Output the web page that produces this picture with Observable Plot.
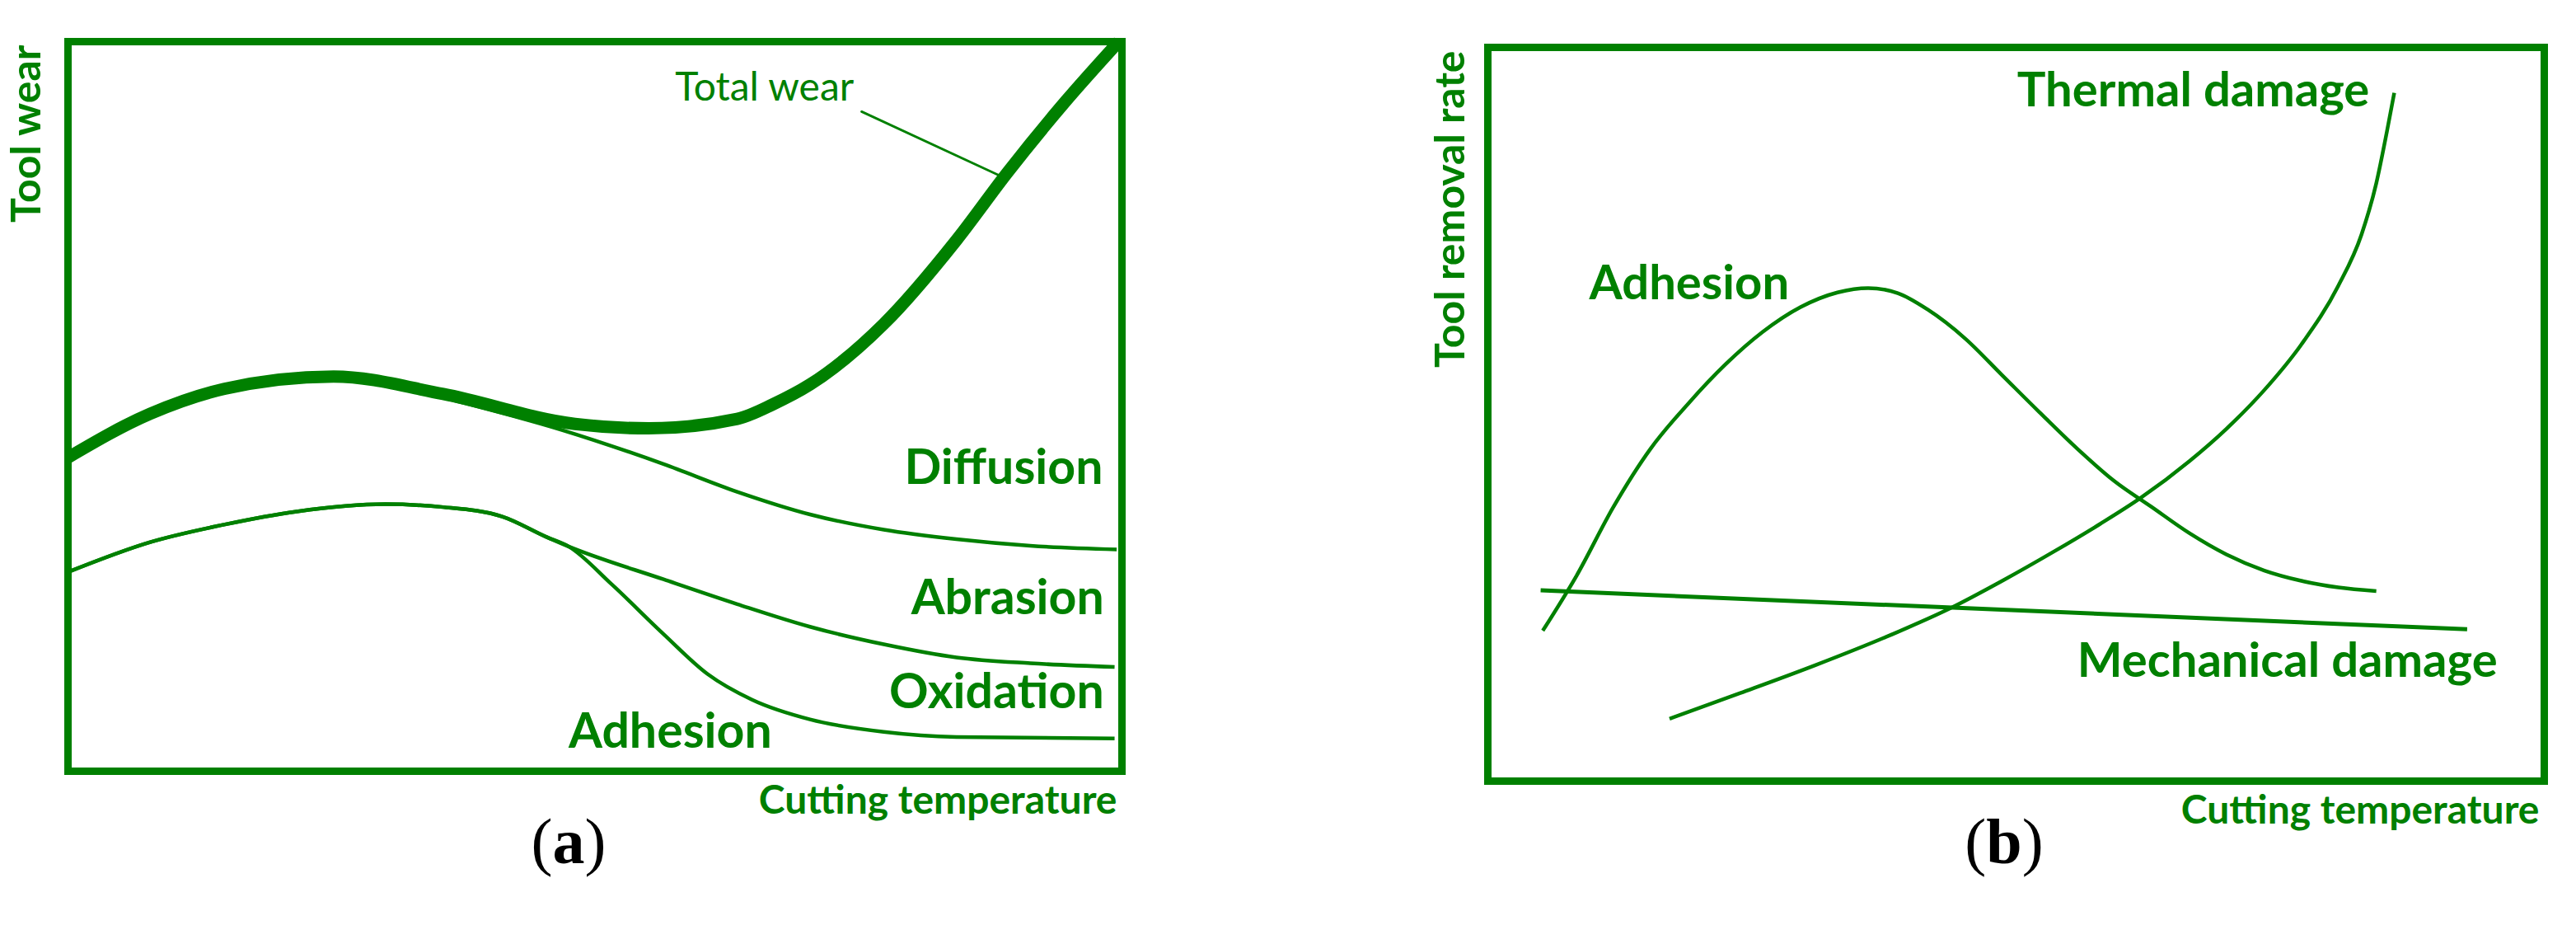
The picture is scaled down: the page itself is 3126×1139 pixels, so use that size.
<!DOCTYPE html>
<html>
<head>
<meta charset="utf-8">
<script src="https://cdn.jsdelivr.net/npm/d3@7"></script>
<script src="https://cdn.jsdelivr.net/npm/@observablehq/plot@0.6"></script>
<style>
  html, body { margin: 0; padding: 0; background: #fff; }
  #root { position: relative; width: 3126px; height: 1139px; background: #fff; overflow: hidden; }
  #panelA { position: absolute; left: 0; top: 0; }
  #panelB { position: absolute; left: 1700px; top: 0; }
  .cap { position: absolute; width: 240px; text-align: center; font-family: "Liberation Serif", serif; font-size: 78px; line-height: 1; color: #000; }
  .cap b { font-weight: bold; }
</style>
</head>
<body>
<div id="root">
  <div id="panelA"></div>
  <div id="panelB"></div>
  <div class="cap" id="capA" style="left:570px; top:982px;">(<b>a</b>)</div>
  <div class="cap" id="capB" style="left:2312px; top:982px;">(<b>b</b>)</div>
</div>
<script>
// ---------- Panel (a): tool wear vs cutting temperature ----------
const totalWearT = [0, 7.8, 14.8, 25.2, 35.6, 48.1, 55.1, 63.5, 66.9, 70.4, 77.4, 84.3, 89.1, 94.7, 99.7];
const totalWearY = [43.0, 49.0, 52.4, 54.1, 51.7, 47.6, 47.0, 48.3, 50.3, 53.0, 61.3, 72.8, 82.0, 91.9, 100];

const diffusionT = [35.6, 46.8, 56.5, 63.5, 70.4, 77.4, 84.3, 91.3, 99.5];
const diffusionY = [51.2, 46.8, 42.1, 38.3, 35.2, 33.1, 31.8, 30.9, 30.4];

const abrasionT = [0, 7.8, 14.8, 21.7, 30.1, 35.6, 41.2, 45.4, 47.5, 56.5, 63.5, 70.4, 77.4, 84.3, 91.3, 99.3];
const abrasionY = [27.3, 31.4, 33.8, 35.6, 36.6, 36.2, 34.9, 32.1, 30.8, 26.3, 22.9, 19.8, 17.4, 15.6, 14.8, 14.3];

const oxidationT = [0, 7.8, 14.8, 21.7, 30.1, 35.6, 41.2, 45.4, 47.5, 51.6, 56.5, 60.7, 64.9, 70.4, 77.4, 84.3, 99.3];
const oxidationY = [27.3, 31.4, 33.8, 35.6, 36.6, 36.2, 34.9, 32.1, 30.8, 25.6, 18.8, 13.3, 9.8, 7.1, 5.4, 4.7, 4.5];

const leaderT = [75.3, 88.9];
const leaderY = [90.4, 81.3];

const bandLabelsA = ["Diffusion", "Abrasion", "Oxidation"];
const bandLabelAX = [98.2, 98.3, 98.3];
const bandLabelAY = [39.4, 21.5, 8.7];
const startLabelsA = ["Adhesion"];
const startLabelAX = [47.5];
const startLabelAY = [3.2];
const totalLabel = ["Total wear"];
const totalLabelX = [57.6];
const totalLabelY = [91.9];

// ---------- Panel (b): tool removal rate vs cutting temperature ----------
const adhesionT = [5.2, 8.4, 11.9, 15.4, 19.0, 22.5, 26.0, 29.6, 33.1, 36.0, 38.8, 41.6, 45.2, 48.7, 52.2, 55.8, 59.3, 62.8, 66.4, 69.9, 73.5, 77.0, 80.5, 84.1];
const adhesionY = [20.5, 28.0, 37.4, 45.3, 51.5, 56.8, 61.2, 64.6, 66.6, 67.2, 66.5, 64.3, 60.3, 55.3, 50.3, 45.3, 40.9, 37.4, 33.8, 30.9, 28.7, 27.3, 26.4, 25.9];

const thermalT = [17.2, 23.9, 31.0, 38.1, 43.7, 48.7, 53.6, 57.9, 61.8, 66.4, 69.9, 73.5, 77.0, 80.5, 82.7, 84.1, 85.1, 85.8];
const thermalY = [8.5, 12.0, 15.8, 19.9, 23.5, 27.3, 31.3, 35.0, 38.6, 43.6, 48.0, 53.3, 59.5, 67.5, 74.5, 81.5, 88.5, 93.8];

const mechanicalT = [5.0, 92.7];
const mechanicalY = [26.0, 20.7];

const labelsB = ["Thermal damage", "Adhesion", "Mechanical damage"];
const labelBX = [50.1, 9.6, 55.8];
const labelBY = [92.0, 65.7, 14.2];

const xTitle = "Cutting temperature";
const yTitleA = "Tool wear";
const yTitleB = "Tool removal rate";

// ---------- helpers ----------
const green = "#008000";
const pts = (T, Y) => T.map((t, i) => ({t, v: Y[i]}));
const curve = (T, Y, w) => Plot.line(pts(T, Y), {x: "t", y: "v", curve: "monotone-x", stroke: green, strokeWidth: w, strokeLinecap: "butt", strokeLinejoin: "round"});
const common = {
  x: {domain: [0, 100], axis: null},
  y: {domain: [0, 100], axis: null},
  style: {fontFamily: "Lato, sans-serif", background: "transparent", overflow: "visible"}
};
const axisTitles = (yTitle, yDx) => [
  Plot.text([xTitle], {frameAnchor: "bottom-right", text: d => d, textAnchor: "end", lineAnchor: "bottom", dx: -6, dy: 51, fontSize: 48, fontWeight: "bold", fill: green}),
  Plot.text([yTitle], {frameAnchor: "top-left", text: d => d, rotate: -90, textAnchor: "end", lineAnchor: "middle", dx: yDx, dy: 4, fontSize: 50, fontWeight: "bold", fill: green})
];

const plotA = Plot.plot({
  ...common,
  width: 1400, height: 1010,
  marginLeft: 82, marginRight: 39, marginTop: 50, marginBottom: 75,
  marks: [
    curve(diffusionT, diffusionY, 4.5),
    curve(abrasionT, abrasionY, 4.5),
    curve(oxidationT, oxidationY, 4.5),
    curve(totalWearT, totalWearY, 15),
    Plot.line(pts(leaderT, leaderY), {x: "t", y: "v", stroke: green, strokeWidth: 3}),
    Plot.text(bandLabelsA, {x: (d, i) => bandLabelAX[i], y: (d, i) => bandLabelAY[i], text: d => d, textAnchor: "end", lineAnchor: "bottom", fontSize: 59, fontWeight: "bold", fill: green}),
    Plot.text(startLabelsA, {x: (d, i) => startLabelAX[i], y: (d, i) => startLabelAY[i], text: d => d, textAnchor: "start", lineAnchor: "bottom", fontSize: 59, fontWeight: "bold", fill: green}),
    Plot.text(totalLabel, {x: (d, i) => totalLabelX[i], y: (d, i) => totalLabelY[i], text: d => d, textAnchor: "start", lineAnchor: "bottom", fontSize: 48, fill: green}),
    Plot.frame({stroke: green, strokeWidth: 9}),
    ...axisTitles(yTitleA, -50)
  ]
});
document.getElementById("panelA").appendChild(plotA);

const plotB = Plot.plot({
  ...common,
  width: 1426, height: 1010,
  marginLeft: 105, marginRight: 39, marginTop: 57, marginBottom: 63,
  marks: [
    curve(adhesionT, adhesionY, 4.5),
    curve(thermalT, thermalY, 4.5),
    curve(mechanicalT, mechanicalY, 5),
    Plot.text(labelsB, {x: (d, i) => labelBX[i], y: (d, i) => labelBY[i], text: d => d, textAnchor: "start", lineAnchor: "bottom", fontSize: 58, fontWeight: "bold", fill: green}),
    Plot.frame({stroke: green, strokeWidth: 9}),
    ...axisTitles(yTitleB, -45)
  ]
});
document.getElementById("panelB").appendChild(plotB);
</script>
</body>
</html>
